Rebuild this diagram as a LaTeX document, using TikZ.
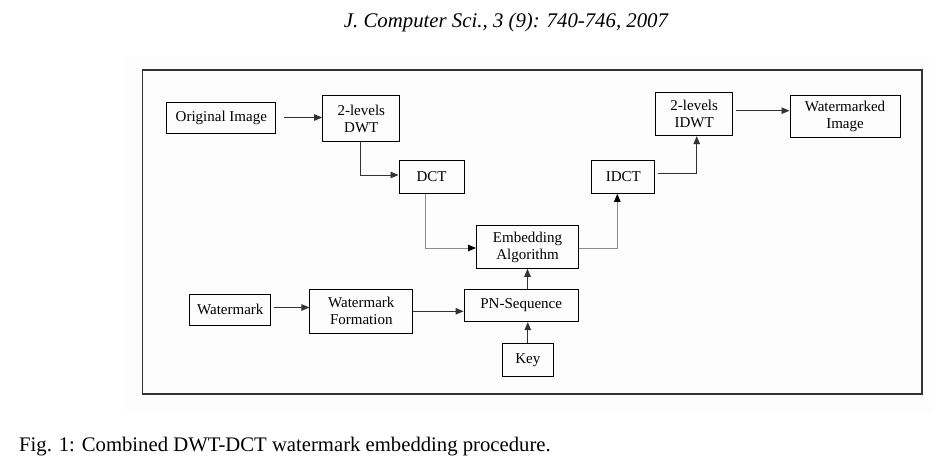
\documentclass[tikz,border=0pt]{standalone}
\usepackage{fontspec}
\setmainfont{Liberation Serif}
\usetikzlibrary{arrows.meta,calc}
\definecolor{faint}{HTML}{FDFDFD}
\tikzset{
  blk/.style={draw=black, line width=1pt, align=center, inner sep=0pt,
    font=\fontsize{15}{17}\selectfont},
  conn/.style={draw=black!80, line width=0.9pt, -{Triangle[length=8pt,width=6.5pt]}},
  lconn/.style={draw=black!45, line width=0.9pt, -{Triangle[length=8pt,width=6.5pt,color=black]}},
}
\begin{document}
\begin{tikzpicture}[x=1pt,y=-1pt]
\useasboundingbox (0,0) rectangle (945,461);
\fill[white] (0,0) rectangle (945,461);
\fill[faint] (124,56) rectangle (933,412);
\draw[black!80, line width=1.3pt] (142.5,70) rectangle (922,394);

\node[font=\fontsize{20.8}{22}\selectfont\itshape] (hdr) at (506,22) {J. Computer Sci., 3 (9): 740-746, 2007};
\node[font=\fontsize{20.7}{22}\selectfont, anchor=west, inner sep=0pt] (cap) at (19,447) {Fig. 1: Combined DWT-DCT watermark embedding procedure.};

\node[blk, minimum width=109.3pt, minimum height=31pt] (orig) at (221.3,117.5) {Original Image};
\node[blk, minimum width=77.3pt, minimum height=46pt] (dwt) at (361.3,118.7) {2-levels\\DWT};
\node[blk, minimum width=65pt, minimum height=32.6pt] (dct) at (431.5,177) {DCT};
\node[blk, minimum width=102pt, minimum height=42.6pt] (emb) at (527.5,247) {Embedding\\Algorithm};
\node[blk, minimum width=63.3pt, minimum height=32.6pt] (idct) at (623.3,177) {IDCT};
\node[blk, minimum width=77pt, minimum height=43.4pt] (idwt) at (694.2,114) {2-levels\\IDWT};
\node[blk, minimum width=110pt, minimum height=41.6pt] (wimg) at (845,116.5) {Watermarked\\Image};
\node[blk, minimum width=80.7pt, minimum height=31pt] (wm) at (230.3,309.5) {Watermark};
\node[blk, minimum width=102.7pt, minimum height=44pt] (wmf) at (361.3,311.3) {Watermark\\Formation};
\node[blk, minimum width=114.3pt, minimum height=32.4pt] (pn) at (521.2,305.5) {PN-Sequence};
\node[blk, minimum width=51pt, minimum height=32.3pt] (key) at (527.8,360) {Key};

\draw[conn, shorten <=8pt] (orig.east) -- (orig.east -| dwt.west);
\draw[conn] ([xshift=-1pt]dwt.south) |- ([yshift=2pt]dct.west);
\draw[lconn] ([xshift=-6.5pt]dct.south) |- ([yshift=-1pt]emb.west);
\draw[lconn] ([yshift=-1pt]emb.east) -| ([xshift=-6pt]idct.south);
\draw[conn, shorten <=3pt] ([yshift=3.7pt]idct.east) -| ([xshift=2.5pt]idwt.south);
\draw[conn, shorten <=2.5pt] ([yshift=3.3pt]idwt.east) -- ([yshift=3.3pt]idwt.east -| wimg.west);
\draw[conn, shorten <=2.5pt] ([yshift=2pt]wm.east) -- ([yshift=2pt]wm.east -| wmf.west);
\draw[conn] ([yshift=0pt]wmf.east) -- (wmf.east -| pn.west);
\draw[conn] (emb.south |- pn.north) -- (emb.south);
\draw[conn] (key.north) -- (key.north |- pn.south);
\end{tikzpicture}
\end{document}
